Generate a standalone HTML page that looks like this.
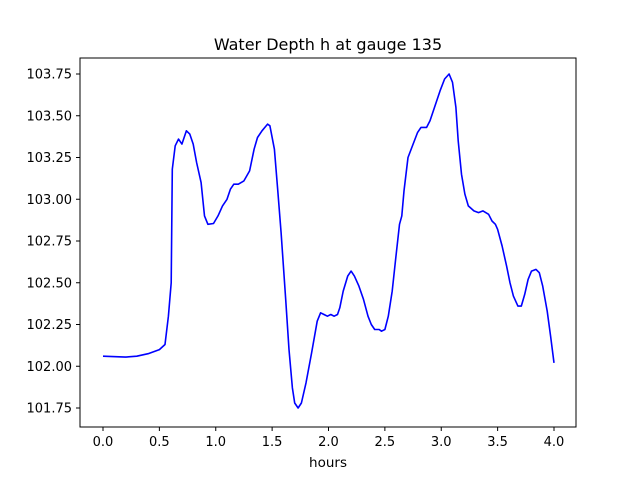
<!DOCTYPE html>
<html><head><meta charset="utf-8"><style>
body{margin:0;background:#fff;}
svg text{font-family:"DejaVu Sans","Liberation Sans",sans-serif;fill:#000;}
</style></head><body>
<svg id="chart" width="640" height="480" viewBox="0 0 640 480" xmlns="http://www.w3.org/2000/svg">
<rect width="640" height="480" fill="#fff"/>
<text x="328" y="50" font-size="16" text-anchor="middle">Water Depth h at gauge 135</text>
<text x="328" y="467" font-size="13.5" text-anchor="middle">hours</text>
<g id="ticks"></g>
<path id="line" fill="none" stroke="#0000ff" stroke-width="1.6" stroke-linejoin="round"/>
<rect x="80" y="58" width="496" height="369" fill="none" stroke="#000" stroke-width="1"/>
</svg>
<script>
const hours=[0,0.2,0.3,0.4,0.5,0.55,0.58,0.605,0.615,0.64,0.67,0.7,0.74,0.77,0.8,0.83,0.87,0.9,0.93,0.98,1.02,1.06,1.1,1.13,1.16,1.2,1.25,1.3,1.34,1.37,1.41,1.46,1.48,1.52,1.55,1.58,1.62,1.65,1.68,1.7,1.73,1.76,1.8,1.85,1.9,1.93,1.96,1.99,2.02,2.05,2.08,2.1,2.13,2.17,2.2,2.23,2.27,2.31,2.35,2.38,2.41,2.45,2.47,2.5,2.53,2.565,2.597,2.63,2.65,2.67,2.705,2.75,2.79,2.82,2.87,2.9,2.94,2.99,3.03,3.07,3.1,3.13,3.15,3.18,3.21,3.24,3.29,3.33,3.37,3.42,3.45,3.48,3.5,3.54,3.58,3.61,3.64,3.68,3.71,3.74,3.77,3.8,3.84,3.87,3.9,3.94,3.97,4.0];
const depth=[102.06,102.055,102.06,102.075,102.1,102.13,102.3,102.5,103.18,103.32,103.36,103.33,103.41,103.39,103.33,103.22,103.1,102.9,102.85,102.855,102.9,102.96,103.0,103.06,103.09,103.09,103.11,103.17,103.3,103.37,103.41,103.45,103.44,103.3,103.05,102.8,102.4,102.1,101.87,101.78,101.75,101.78,101.9,102.08,102.27,102.32,102.31,102.3,102.31,102.3,102.31,102.35,102.45,102.54,102.57,102.54,102.48,102.4,102.3,102.25,102.22,102.22,102.21,102.22,102.3,102.45,102.65,102.85,102.9,103.05,103.25,103.33,103.4,103.43,103.43,103.47,103.55,103.65,103.72,103.75,103.7,103.55,103.35,103.15,103.03,102.96,102.93,102.92,102.93,102.91,102.87,102.85,102.82,102.72,102.6,102.5,102.42,102.36,102.36,102.43,102.52,102.57,102.58,102.56,102.48,102.33,102.18,102.02];
const xTicks=[0,0.5,1,1.5,2,2.5,3,3.5,4];
const xTickLabels=["0.0","0.5","1.0","1.5","2.0","2.5","3.0","3.5","4.0"];
const yTicks=[101.75,102,102.25,102.5,102.75,103,103.25,103.5,103.75];
const yTickLabels=["101.75","102.00","102.25","102.50","102.75","103.00","103.25","103.50","103.75"];
const X=v=>103+v*112.75;
const Y=v=>408-(v-101.75)*167;
const NS="http://www.w3.org/2000/svg";
const g=document.getElementById('ticks');
xTicks.forEach((t,i)=>{
  const l=document.createElementNS(NS,'line');
  
  
  l.setAttribute('x1',X(t));l.setAttribute('x2',X(t));l.setAttribute('y1',427);l.setAttribute('y2',431);l.setAttribute('stroke','#000');
  g.appendChild(l);
  const tx=document.createElementNS(NS,'text');
  
  
  tx.setAttribute('x',X(t));tx.setAttribute('y',446);tx.setAttribute('font-size','13');tx.setAttribute('text-anchor','middle');
  tx.textContent=xTickLabels[i];g.appendChild(tx);
});
yTicks.forEach((t,i)=>{
  const l=document.createElementNS(NS,'line');
  
  
  l.setAttribute('x1',76);l.setAttribute('x2',80);l.setAttribute('y1',Y(t));l.setAttribute('y2',Y(t));l.setAttribute('stroke','#000');
  g.appendChild(l);
  const tx=document.createElementNS(NS,'text');
  
  
  tx.setAttribute('x',72);tx.setAttribute('y',Y(t)+4.5);tx.setAttribute('font-size','13');tx.setAttribute('text-anchor','end');
  tx.textContent=yTickLabels[i];g.appendChild(tx);
});
document.getElementById('line').setAttribute('d',hours.map((h,i)=>(i?'L':'M')+X(h).toFixed(1)+','+Y(depth[i]).toFixed(1)).join(''));
</script>
</body></html>
